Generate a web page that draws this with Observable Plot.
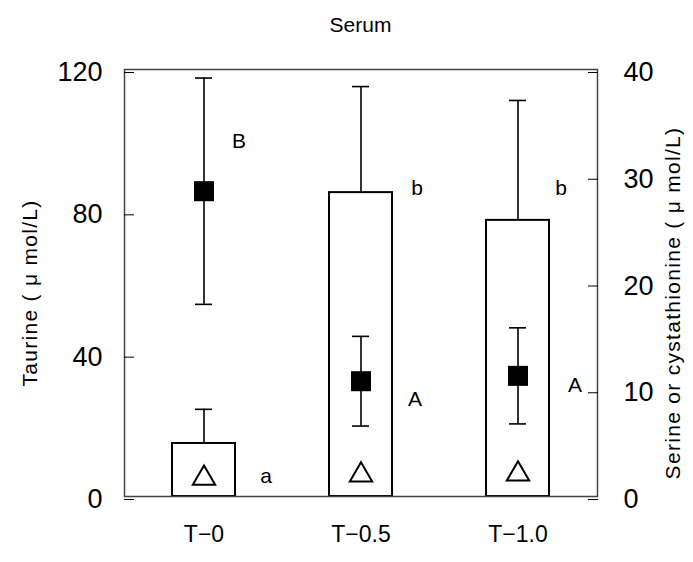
<!DOCTYPE html>
<html>
<head>
<meta charset="utf-8">
<script src="https://cdn.jsdelivr.net/npm/d3@7"></script>
<script src="https://cdn.jsdelivr.net/npm/@observablehq/plot@0.6"></script>
<style>
  body { margin: 0; background: white; font-family: "Liberation Sans", Arial, sans-serif; }
  #title { width: 597px; padding-left: 124px; height: 40px; box-sizing: border-box; padding-top: 12px;
           line-height: 26px; font-size: 21px; text-align: center; color: #000; }
</style>
</head>
<body>
<div id="title">Serum</div>
<div id="chart"></div>
<script>
// Groups (taurine dose)
const groups = ["T\u22120", "T\u22120.5", "T\u22121.0"];

// Taurine, left axis (µmol/L): bar = mean, whisker = +SD
const taurineMean = [14.9, 85.4, 77.6];
const taurineSD = [9.6, 29.8, 33.7];

// Serine (filled squares), right axis (µmol/L): mean ± SD
const serineMean = [28.6, 10.8, 11.3];
const serineSD = [10.6, 4.2, 4.5];

// Cystathionine (open triangles), right axis (µmol/L)
const cystathionineMean = [1.7, 2.0, 2.1];

// Significance letters
const taurineLetters = ["a", "b", "b"];
const serineLetters = ["B", "A", "A"];

// Axis titles
const leftTitle = "Taurine ( \u03bc mol/L)";
const rightTitle = "Serine or cystathionine ( \u03bc mol/L)";

// Right axis spans 0–40 on the same height as the left axis 0–120
const k = 120 / 40;

const rows = groups.map((g, i) => ({
  group: g,
  taurine: taurineMean[i],
  taurineSD: taurineSD[i],
  serine: serineMean[i],
  serineSD: serineSD[i],
  cysta: cystathionineMean[i]
}));

// Letter placement (value on the letter's own axis, horizontal offset from the group centre)
const letterY = { taurine: [5.6, 86.6, 86.6], serine: [33.3, 9.1, 10.4] };
const letterDx = { taurine: [62, 56, 43], serine: [35, 54, 57] };
const letters = [
  ...groups.map((g, i) => ({ group: g, text: taurineLetters[i], y: letterY.taurine[i], dx: letterDx.taurine[i] })),
  ...groups.map((g, i) => ({ group: g, text: serineLetters[i], y: letterY.serine[i] * k, dx: letterDx.serine[i] }))
];

const chart = Plot.plot({
  width: 693,
  height: 522,
  marginLeft: 124,
  marginRight: 96,
  marginTop: 29,
  marginBottom: 66,
  style: { fontFamily: "'Liberation Sans', Arial, sans-serif", background: "white", color: "black", overflow: "visible" },
  x: { domain: groups, paddingInner: 0.6, paddingOuter: 0.3, label: null },
  y: { domain: [0, 120], label: null },
  marks: [
    // taurine bars and upward whiskers
    Plot.ruleX(rows, { x: "group", y1: "taurine", y2: d => d.taurine + d.taurineSD, stroke: "black", strokeWidth: 1.6 }),
    Plot.tickY(rows, { x: "group", y: d => d.taurine + d.taurineSD, insetLeft: 23, insetRight: 23, stroke: "black", strokeWidth: 1.6 }),
    Plot.barY(rows, { x: "group", y: "taurine", fill: "white", stroke: "black", strokeWidth: 2 }),

    // serine mean ± SD
    Plot.ruleX(rows, { x: "group", y1: d => (d.serine - d.serineSD) * k, y2: d => (d.serine + d.serineSD) * k, stroke: "black", strokeWidth: 1.6 }),
    Plot.tickY(rows, { x: "group", y: d => (d.serine + d.serineSD) * k, insetLeft: 23, insetRight: 23, stroke: "black", strokeWidth: 1.6 }),
    Plot.tickY(rows, { x: "group", y: d => (d.serine - d.serineSD) * k, insetLeft: 23, insetRight: 23, stroke: "black", strokeWidth: 1.6 }),
    Plot.dot(rows, { x: "group", y: d => d.serine * k, symbol: "square", r: 11.3, fill: "black", stroke: "none" }),

    // cystathionine
    Plot.dot(rows, { x: "group", y: d => d.cysta * k, symbol: "triangle", r: 8.3, fill: "white", stroke: "black", strokeWidth: 2 }),

    // letters, each with its own offset to the right of the group
    ...letters.map(l => Plot.text([l], { x: "group", y: "y", text: "text", dx: l.dx, fontSize: 21, fill: "black" })),

    // frame and axes
    Plot.frame({ stroke: "#444", strokeWidth: 1.5 }),
    Plot.axisY({ anchor: "left", ticks: [0, 40, 80, 120], tickSize: -10, tickPadding: 32, dy: 3, fontSize: 27, label: null }),
    Plot.axisY({ anchor: "right", ticks: [0, 30, 60, 90, 120], tickFormat: d => d / k, tickSize: -10, tickPadding: 36, dy: 3, fontSize: 27, label: null }),
    Plot.axisX({ tickSize: 0, tickPadding: 29, fontSize: 23, label: null }),

    // axis titles
    Plot.text([leftTitle], { frameAnchor: "left", textAnchor: "middle", dx: -94, dy: 10, rotate: -90, fontSize: 21, fill: "black" }),
    Plot.text([rightTitle], { frameAnchor: "right", textAnchor: "middle", dx: 76, dy: 20, rotate: -90, fontSize: 21, fill: "black" })
  ]
});

// slightly open tracking on the two axis titles
d3.select(chart).selectAll("text")
  .filter(function () { return this.textContent === leftTitle || this.textContent === rightTitle; })
  .attr("letter-spacing", "1.3px");

document.getElementById("chart").appendChild(chart);
</script>
</body>
</html>
